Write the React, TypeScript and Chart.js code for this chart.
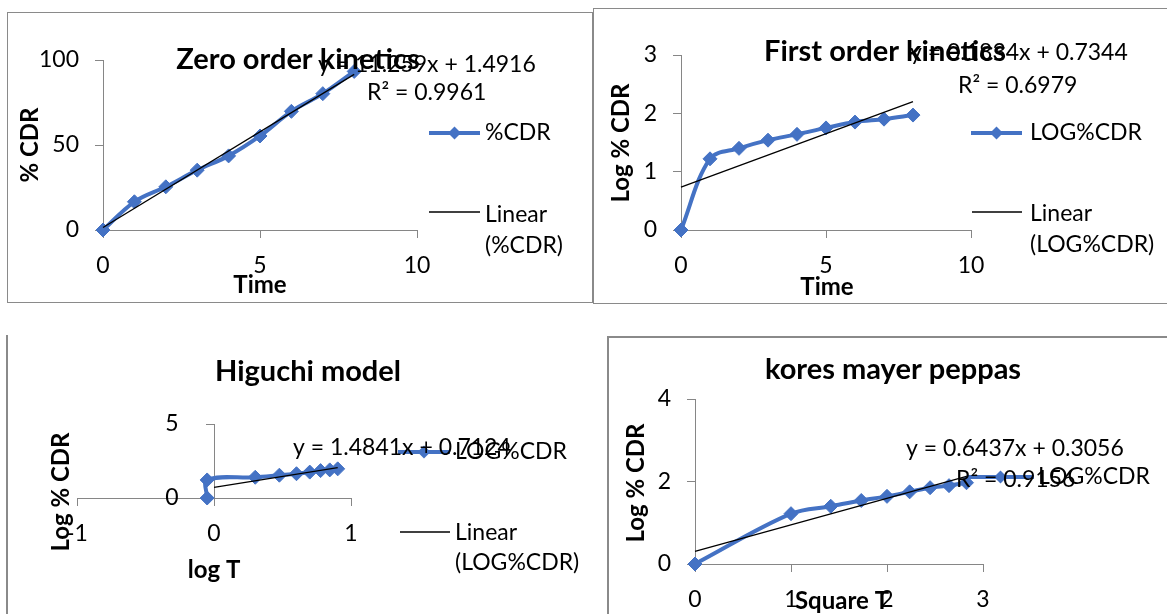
import React, { useEffect, useRef } from "react";
import { Chart, registerables } from "chart.js";

Chart.register(...registerables);

const W = 1167;
const H = 614;
const BLUE = "#4472C4";
const AXIS = "#868686";
const FONT = "Lato";

// ---------------- data ----------------
const timeHours = [0, 1, 2, 3, 4, 5, 6, 7, 8];
const percentCDR = [0, 16.6, 25.4, 35.2, 43.6, 55.3, 69.8, 80.2, 93.3];
const logPercentCDR = [0, 1.22, 1.4, 1.54, 1.64, 1.75, 1.85, 1.9, 1.97];
const logTime = [-0.05, -0.05, 0.301, 0.477, 0.602, 0.699, 0.778, 0.845, 0.903];
const sqrtTime = [0, 1, 1.414, 1.732, 2, 2.236, 2.449, 2.646, 2.828];

const fitSlopes = [11.259, 0.1834, 1.4841, 0.6437];
const fitIntercepts = [1.4916, 0.7344, 0.7124, 0.3056];
const fitR2 = ["0.9961", "0.6979", "", "0.9156"];

const timeTicks = [0, 5, 10];
const zeroYTicks = [0, 50, 100];
const firstYTicks = [0, 1, 2, 3];
const higuchiXTicks = [-1, 0, 1];
const higuchiYTicks = [0, 5];
const peppasXTicks = [0, 1, 2, 3];
const peppasYTicks = [0, 2, 4];

const chartTitles = ["Zero order kinetics", "First order kinetics", "Higuchi model", "kores mayer peppas"];
const xTitles = ["Time", "Time", "log T", "Square T"];
const yTitles = ["% CDR", "Log % CDR", "Log % CDR", "Log % CDR"];
const seriesNames = ["%CDR", "LOG%CDR", "LOG%CDR", "LOG%CDR"];

// ---------------- layout helpers ----------------
type Txt = { t: string; x: number; y: number; size: number; bold?: boolean; align?: CanvasTextAlign; rot?: boolean };
type Leg = { x1: number; x2: number; y: number; marker?: boolean };

interface Panel {
  fit: number;
  xs: number[];
  ys: number[];
  trendFloor?: number;
  xTicks: number[];
  yTicks: number[];
  L: number;
  R: number;
  T: number;
  B: number;
  yAtZero?: boolean;
  texts: Txt[];
  legends: Leg[];
}

const eq = (i: number) => `y = ${fitSlopes[i]}x + ${fitIntercepts[i]}`;
const r2 = (i: number) => `R² = ${fitR2[i]}`;

const TS = 23; // regular text size
const TT = 29; // title size
const AT = 24; // axis title size

const panels: Panel[] = [
  {
    fit: 0, xs: timeHours, ys: percentCDR, xTicks: timeTicks, yTicks: zeroYTicks,
    L: 103, R: 417, T: 60, B: 230,
    texts: [
      { t: chartTitles[0], x: 298, y: 60, size: TT, bold: true, align: "center" },
      { t: eq(0), x: 318, y: 65, size: TS },
      { t: r2(0), x: 367, y: 93, size: TS },
      { t: seriesNames[0], x: 485, y: 133, size: TS },
      { t: "Linear", x: 485, y: 215, size: TS },
      { t: `(${seriesNames[0]})`, x: 485, y: 246, size: TS },
      { t: yTitles[0], x: 30, y: 145, size: AT, bold: true, align: "center", rot: true },
      { t: xTitles[0], x: 260, y: 285, size: AT, bold: true, align: "center" },
    ],
    legends: [
      { x1: 429, x2: 480, y: 133, marker: true },
      { x1: 429, x2: 480, y: 212 },
    ],
  },
  {
    fit: 1, xs: timeHours, ys: logPercentCDR, xTicks: timeTicks, yTicks: firstYTicks,
    L: 681, R: 971, T: 55, B: 230,
    texts: [
      { t: chartTitles[1], x: 885, y: 52, size: TT, bold: true, align: "center" },
      { t: eq(1), x: 910, y: 53, size: TS },
      { t: r2(1), x: 958, y: 86, size: TS },
      { t: seriesNames[1], x: 1030, y: 133, size: TS },
      { t: "Linear", x: 1030, y: 214, size: TS },
      { t: `(${seriesNames[1]})`, x: 1030, y: 245, size: TS },
      { t: yTitles[1], x: 621, y: 143, size: AT, bold: true, align: "center", rot: true },
      { t: xTitles[1], x: 827, y: 287, size: AT, bold: true, align: "center" },
    ],
    legends: [
      { x1: 971, x2: 1022, y: 133, marker: true },
      { x1: 972, x2: 1022, y: 212 },
    ],
  },
  {
    fit: 2, xs: logTime, ys: logPercentCDR, trendFloor: 0, xTicks: higuchiXTicks, yTicks: higuchiYTicks,
    L: 77, R: 351, T: 424, B: 498, yAtZero: true,
    texts: [
      { t: chartTitles[2], x: 308, y: 372, size: TT, bold: true, align: "center" },
      { t: eq(2), x: 293, y: 448, size: TS },
      { t: seriesNames[2], x: 455, y: 452, size: TS },
      { t: "Linear", x: 455, y: 533, size: TS },
      { t: `(${seriesNames[2]})`, x: 455, y: 563, size: TS },
      { t: yTitles[2], x: 61, y: 492, size: AT, bold: true, align: "center", rot: true },
      { t: xTitles[2], x: 214, y: 570, size: AT, bold: true, align: "center" },
    ],
    legends: [
      { x1: 398, x2: 450, y: 452, marker: true },
      { x1: 400, x2: 450, y: 532 },
    ],
  },
  {
    fit: 3, xs: sqrtTime, ys: logPercentCDR, xTicks: peppasXTicks, yTicks: peppasYTicks,
    L: 695, R: 983, T: 399, B: 564,
    texts: [
      { t: chartTitles[3], x: 893, y: 370, size: TT, bold: true, align: "center" },
      { t: eq(3), x: 906, y: 449, size: TS },
      { t: r2(3), x: 956, y: 480, size: TS },
      { t: seriesNames[3], x: 1038, y: 477, size: TS },
      { t: yTitles[3], x: 636, y: 483, size: AT, bold: true, align: "center", rot: true },
      { t: xTitles[3], x: 842, y: 601, size: AT, bold: true, align: "center" },
    ],
    legends: [{ x1: 967, x2: 1034, y: 477, marker: true }],
  },
];

function diamond(ctx: CanvasRenderingContext2D, x: number, y: number, r: number) {
  ctx.beginPath();
  ctx.moveTo(x - r, y);
  ctx.lineTo(x, y - r);
  ctx.lineTo(x + r, y);
  ctx.lineTo(x, y + r);
  ctx.closePath();
  ctx.fill();
}

function overlay(p: Panel) {
  return {
    id: "overlay",
    afterDraw(chart: any) {
      const ctx: CanvasRenderingContext2D = chart.ctx;
      ctx.save();
      for (const lg of p.legends) {
        ctx.beginPath();
        ctx.moveTo(lg.x1, lg.y);
        ctx.lineTo(lg.x2, lg.y);
        ctx.strokeStyle = lg.marker ? BLUE : "#000";
        ctx.lineWidth = lg.marker ? 4 : 1.3;
        ctx.stroke();
        if (lg.marker) {
          ctx.fillStyle = BLUE;
          diamond(ctx, (lg.x1 + lg.x2) / 2, lg.y, 6.5);
        }
      }
      ctx.fillStyle = "#000";
      ctx.textBaseline = "middle";
      for (const t of p.texts) {
        ctx.font = `${t.bold ? "bold " : ""}${t.size}px ${FONT}`;
        ctx.textAlign = t.align || "left";
        if (t.rot) {
          ctx.save();
          ctx.translate(t.x, t.y);
          ctx.rotate(-Math.PI / 2);
          ctx.fillText(t.t, 0, 0);
          ctx.restore();
        } else {
          ctx.fillText(t.t, t.x, t.y);
        }
      }
      ctx.restore();
    },
  };
}

function buildConfig(p: Panel): any {
  const slope = fitSlopes[p.fit];
  const icpt = fitIntercepts[p.fit];
  const x0 = Math.max(Math.min(...p.xs), p.trendFloor ?? -Infinity);
  const x1 = Math.max(...p.xs);
  const trend = [x0, x1].map((x) => ({ x, y: slope * x + icpt }));
  const series = p.xs.map((x, i) => ({ x, y: p.ys[i] }));
  const tickFont = { family: FONT, size: TS };
  const YW = 80;
  const XH = 70;
  const axisCommon = {
    type: "linear",
    grid: { drawOnChartArea: false, drawTicks: true, tickLength: 8, color: AXIS, lineWidth: 1 },
    border: { display: true, color: AXIS, width: 1 },
  };
  // an axis that crosses at x = 0 gets its label gap from trailing spaces
  const yLabel = (v: any) => (p.yAtZero ? `${v}      ` : String(v));
  return {
    type: "scatter",
    data: {
      datasets: [
        {
          label: "Linear",
          data: trend,
          showLine: true,
          borderColor: "#000",
          borderWidth: 1.3,
          pointRadius: 0,
          tension: 0,
          order: 0,
          clip: false,
        },
        {
          label: seriesNames[p.fit],
          data: series,
          showLine: true,
          borderColor: BLUE,
          backgroundColor: BLUE,
          pointBackgroundColor: BLUE,
          pointBorderColor: BLUE,
          borderWidth: 4,
          pointStyle: "rectRot",
          pointRadius: 7,
          pointBorderWidth: 1,
          tension: 0.35,
          order: 1,
          clip: false,
        },
      ],
    },
    options: {
      responsive: false,
      animation: false,
      devicePixelRatio: 1,
      events: [],
      layout: {
        padding: {
          left: p.yAtZero ? p.L : p.L - YW,
          right: W - p.R,
          top: p.T,
          bottom: H - p.B - XH,
        },
      },
      plugins: { legend: { display: false }, tooltip: { enabled: false }, title: { display: false } },
      scales: {
        x: {
          ...axisCommon,
          position: "bottom",
          min: p.xTicks[0],
          max: p.xTicks[p.xTicks.length - 1],
          afterBuildTicks: (s: any) => {
            s.ticks = p.xTicks.map((v) => ({ value: v }));
          },
          afterFit: (s: any) => {
            s.height = XH;
          },
          ticks: { font: tickFont, color: "#000", padding: 14, maxRotation: 0, autoSkip: false, callback: (v: any) => String(v) },
        },
        y: {
          ...axisCommon,
          position: p.yAtZero ? { x: 0 } : "left",
          min: p.yTicks[0],
          max: p.yTicks[p.yTicks.length - 1],
          afterBuildTicks: (s: any) => {
            s.ticks = p.yTicks.map((v) => ({ value: v }));
          },
          afterFit: (s: any) => {
            s.width = YW;
          },
          ticks: { font: tickFont, color: "#000", padding: 16, autoSkip: false, callback: yLabel },
        },
      },
    },
    plugins: [overlay(p)],
  };
}

function ChartCanvas({ panel }: { panel: Panel }) {
  const ref = useRef<HTMLCanvasElement | null>(null);
  useEffect(() => {
    let chart: Chart | null = null;
    let cancelled = false;
    const make = () => {
      if (cancelled || !ref.current) return;
      chart = new Chart(ref.current, buildConfig(panel));
    };
    Promise.all([
      document.fonts.load(`${TS}px ${FONT}`),
      document.fonts.load(`bold ${TT}px ${FONT}`),
    ]).then(make, make);
    return () => {
      cancelled = true;
      if (chart) chart.destroy();
    };
  }, [panel]);
  return (
    <canvas
      ref={ref}
      width={W}
      height={H}
      style={{ position: "absolute", left: 0, top: 0, width: W, height: H }}
    />
  );
}

const boxStyle = (s: React.CSSProperties): React.CSSProperties => ({
  position: "absolute",
  boxSizing: "border-box",
  ...s,
});

export default function App() {
  return (
    <div
      style={{
        position: "absolute",
        left: 0,
        top: 0,
        width: W,
        height: H,
        background: "#fff",
        overflow: "hidden",
      }}
    >
      <div style={boxStyle({ left: 7, top: 12, width: 586, height: 291, border: "1px solid #8a8a8a" })} />
      <div style={boxStyle({ left: 593, top: 8, width: 600, height: 296, border: "1px solid #8a8a8a" })} />
      <div style={boxStyle({ left: 6, top: 335, width: 10, height: 300, borderLeft: "2px solid #8a8a8a" })} />
      <div style={boxStyle({ left: 607, top: 336, width: 600, height: 300, borderLeft: "2px solid #8a8a8a", borderTop: "2px solid #8a8a8a" })} />
      {panels.map((p, i) => (
        <ChartCanvas key={i} panel={p} />
      ))}
    </div>
  );
}
